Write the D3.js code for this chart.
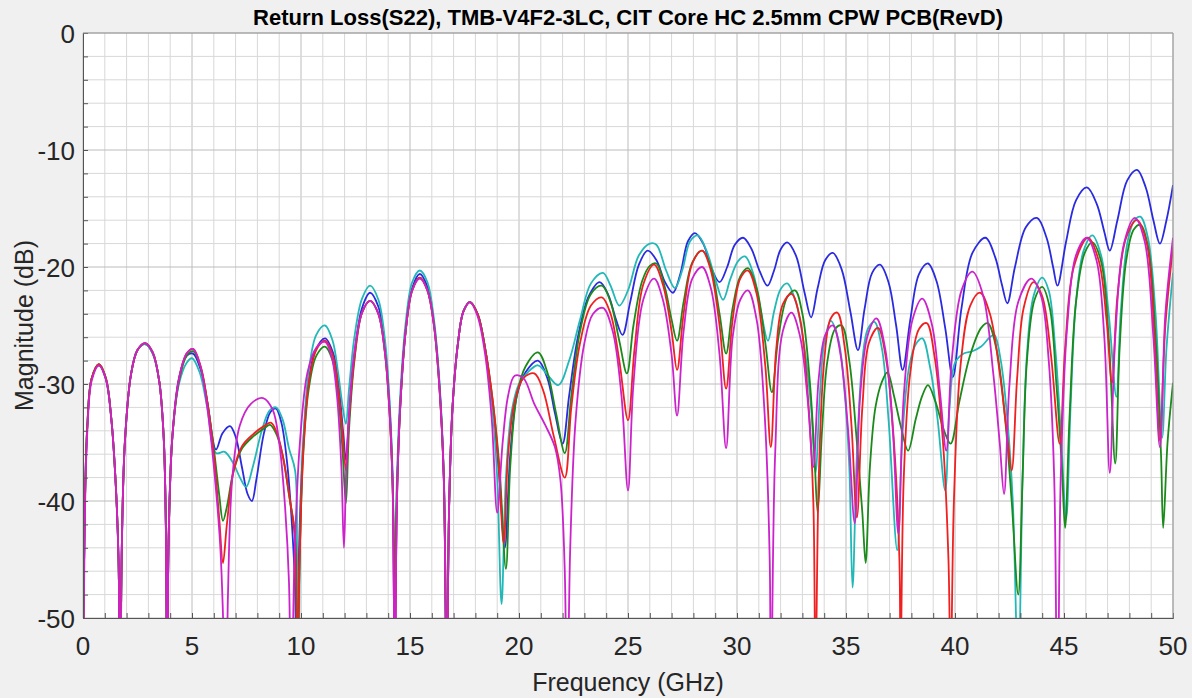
<!DOCTYPE html>
<html lang="en">
<head>
	<title>Return Loss S22</title>
	<script src="https://d3js.org/d3.v7.min.js" charset="utf-8"></script>
	<style>
		body {
			margin: 0;
			background: #f0f0f0;
			font-family: 'Liberation Sans', Arial, Helvetica, sans-serif;
		}
	</style>
</head>
<body>
	<div id="chart"></div>
	<script>
	// title and axis text
	var chartTitle = "Return Loss(S22), TMB-V4F2-3LC, CIT Core HC 2.5mm CPW PCB(RevD)";
	var xTitle = "Frequency (GHz)";
	var yTitle = "Magnitude (dB)";

	// tick labels
	var xTicks = [0, 5, 10, 15, 20, 25, 30, 35, 40, 45, 50];
	var yTicks = [0, -10, -20, -30, -40, -50];

	// trace data, [frequency GHz, magnitude dB]
	var blueData = [
		[0,-55],[0.08,-41],[0.2,-33.5],[0.4,-29.5],[0.73,-28.4],[1.05,-29.6],[1.3,-33],[1.5,-38.5],[1.63,-45],[1.7,-58],
		[1.78,-44],[1.92,-35],[2.2,-29.2],[2.5,-27.1],[2.85,-26.6],[3.2,-27.4],[3.5,-29.8],[3.7,-34.5],[3.8,-42],[3.86,-58],
		[3.93,-43],[4.1,-34.5],[4.4,-29.5],[4.75,-27.6],[5.05,-27.4],[5.4,-28.8],[5.7,-31.5],[6.1,-35.6],[6.4,-34.2],[6.74,-33.6],
		[7.0,-34.5],[7.3,-37.2],[7.55,-39.4],[7.75,-40.0],[7.95,-38.2],[8.3,-34.2],[8.6,-32.4],[8.85,-32.1],[9.1,-33.3],[9.35,-36.5],
		[9.55,-41],[9.72,-47],[9.82,-58],
		[9.9,-45],[10.05,-37],[10.3,-30.5],[10.65,-27.2],[11.1,-26.1],[11.5,-27.5],[11.75,-30.5],[11.95,-34.5],[12.06,-36.5],
		[12.2,-33],[12.45,-27.5],[12.8,-23.5],[13.17,-22.2],[13.55,-23.4],[13.85,-26.8],[14.05,-31.5],[14.2,-38],[14.3,-55],
		[14.4,-40],[14.55,-32],[14.8,-25.5],[15.1,-21.8],[15.45,-20.6],[15.8,-21.7],[16.1,-24.8],[16.35,-30],[16.55,-38],[16.68,-55],
		[16.8,-40],[16.95,-32],[17.2,-26.5],[17.45,-23.8],[17.75,-23.0],[18.1,-24],[18.45,-27],[18.8,-32],[19.1,-38],[19.35,-44],
		[19.6,-36],[19.9,-31],[20.3,-29],[20.87,-28.0],[21.3,-29.5],[21.65,-32.5],[22.0,-35.1],
		[22.3,-31],[22.7,-26],[23.2,-22.5],[23.7,-21.3],[24.1,-22.4],[24.45,-24.5],[24.75,-25.8],
		[25.1,-23],[25.5,-19.8],[25.9,-18.6],[26.3,-19.4],[26.7,-21.3],[27.06,-22.2],
		[27.4,-20.6],[27.75,-17.8],[28.07,-17.1],[28.45,-18],[28.85,-20.2],[29.2,-21.3],
		[29.55,-20],[29.9,-18.1],[30.28,-17.5],[30.65,-18.4],[31.05,-20.4],[31.4,-21.6],
		[31.7,-20.3],[32.0,-18.5],[32.3,-17.9],[32.7,-19],[33.1,-22.2],[33.4,-24.3],
		[33.7,-21.8],[34.05,-19.4],[34.4,-18.8],[34.8,-20.2],[35.2,-23.8],[35.55,-27.1],
		[35.85,-23.6],[36.2,-20.5],[36.56,-19.8],[36.95,-21.3],[37.3,-25],[37.6,-28.8],
		[37.95,-24.5],[38.35,-20.6],[38.76,-19.7],[39.15,-21.2],[39.55,-25.2],[39.9,-29.4],
		[40.3,-23.5],[40.8,-18.8],[41.4,-17.5],[41.85,-19.2],[42.15,-21.5],[42.4,-23.1],
		[42.75,-20],[43.25,-16.6],[43.76,-15.8],[44.2,-17.5],[44.5,-20],[44.7,-21.6],
		[45.1,-17.8],[45.55,-14.3],[46.05,-13.2],[46.5,-14.6],[46.85,-17],[47.1,-18.6],
		[47.45,-16],[47.9,-12.6],[48.35,-11.7],[48.75,-13.2],[49.1,-16],[49.4,-18.0],
		[49.7,-16],[50,-13.0]
	];

	var cyanData = [
		[0,-55],[0.08,-41],[0.2,-33.5],[0.4,-29.5],[0.73,-28.3],[1.05,-29.5],[1.3,-33],[1.5,-38.5],[1.63,-45],[1.7,-58],
		[1.78,-44],[1.92,-35],[2.2,-29.2],[2.5,-27.1],[2.85,-26.6],[3.2,-27.4],[3.5,-29.8],[3.7,-34.5],[3.8,-42],[3.86,-58],
		[3.93,-43],[4.1,-34.5],[4.4,-30],[4.75,-28.2],[5.0,-27.8],[5.35,-29],[5.7,-32],[6.1,-35.9],[6.5,-35.8],[6.9,-36.8],
		[7.2,-38],[7.48,-38.8],[7.8,-37],[8.2,-34],[8.55,-32.3],[8.85,-32.0],[9.15,-33],[9.45,-35.5],[9.73,-37.4],[9.82,-45],[9.88,-55],
		[9.95,-44],[10.1,-35],[10.35,-29],[10.7,-25.8],[11.1,-25.0],[11.45,-26.3],[11.7,-29],[11.9,-31.8],[12.06,-33.4],
		[12.2,-30.5],[12.45,-26],[12.8,-22.7],[13.17,-21.6],[13.55,-22.8],[13.85,-26.2],[14.05,-31],[14.2,-37.5],[14.3,-46.5],
		[14.4,-38],[14.55,-31],[14.8,-24.8],[15.1,-21.3],[15.45,-20.3],[15.8,-21.3],[16.1,-24.5],[16.35,-29.8],[16.55,-37.5],[16.68,-55],
		[16.8,-40],[16.95,-32],[17.2,-26.5],[17.45,-23.8],[17.75,-23.0],[18.1,-24],[18.45,-27],[18.8,-32.5],[19.0,-38],[19.2,-48.8],
		[19.4,-38],[19.65,-32.5],[20.0,-30],[20.4,-29],[20.87,-28.4],[21.3,-29.2],[21.8,-30.1],
		[22.3,-28],[22.8,-24.5],[23.3,-21.4],[23.85,-20.5],[24.2,-21.6],[24.6,-23.3],
		[25.0,-22],[25.5,-19],[26.0,-18.0],[26.3,-18.1],[26.75,-20.3],[27.15,-21.8],
		[27.5,-20.2],[27.85,-17.8],[28.2,-17.3],[28.6,-18.6],[29.0,-21],[29.36,-22.8],
		[29.7,-21],[30.05,-19.5],[30.37,-19.1],[30.75,-20.6],[31.1,-23.8],[31.42,-26.3],
		[31.7,-23.8],[32.0,-21.9],[32.3,-21.4],[32.7,-23],[33.1,-27],[33.4,-32],[33.6,-37.6],
		[33.8,-31],[34.0,-26.5],[34.3,-24.6],[34.65,-26.2],[34.95,-31],[35.15,-37],[35.3,-47.4],
		[35.5,-36],[35.75,-28],[36.0,-25.3],[36.3,-24.7],[36.65,-27],[36.95,-33],[37.35,-44.2],
		[37.6,-34],[37.9,-28.5],[38.2,-26.6],[38.5,-26.1],[38.85,-28.5],[39.2,-33],[39.55,-39.1],
		[39.75,-32],[40.0,-28.2],[40.4,-27.4],[40.8,-27.2],[41.2,-26.8],[41.6,-26],[41.8,-25.8],[42.1,-28],[42.4,-33],[42.65,-40],[42.9,-55],
		[43.1,-38],[43.3,-27.5],[43.6,-22.5],[44.0,-20.9],[44.3,-22],[44.6,-27],[44.85,-34],[45.1,-41.5],
		[45.3,-32],[45.55,-23],[45.9,-18.6],[46.3,-17.3],[46.7,-19],[47.05,-24],[47.4,-31.1],
		[47.6,-24],[47.9,-18],[48.2,-16.1],[48.5,-15.7],[48.85,-17.5],[49.2,-24],[49.5,-34.6],
		[49.7,-27],[50,-20.5]
	];

	var greenData = [
		[0,-55],[0.08,-41],[0.2,-33.5],[0.4,-29.5],[0.73,-28.3],[1.05,-29.5],[1.3,-33],[1.5,-38.5],[1.63,-45],[1.7,-58],
		[1.78,-44],[1.92,-35],[2.2,-29.2],[2.5,-27.1],[2.85,-26.5],[3.2,-27.3],[3.5,-29.8],[3.7,-34.5],[3.8,-42],[3.86,-58],
		[3.93,-43],[4.1,-34.5],[4.4,-29.8],[4.75,-27.6],[5.05,-27.2],[5.4,-28.6],[5.7,-31.5],[6.0,-35.5],[6.25,-39.5],[6.42,-41.7],
		[6.6,-40.5],[6.9,-37.5],[7.3,-35.5],[7.8,-34.5],[8.3,-33.8],[8.58,-33.5],[8.85,-34.2],[9.15,-36],[9.45,-39.5],[9.72,-42.8],[9.82,-55],
		[9.95,-44],[10.1,-36],[10.35,-30.5],[10.7,-27.6],[11.1,-26.8],[11.45,-28],[11.7,-31],[11.9,-35.5],[12.06,-40.2],
		[12.2,-34],[12.45,-28],[12.8,-23.9],[13.17,-22.9],[13.55,-24],[13.85,-27.3],[14.05,-32],[14.2,-38.5],[14.3,-46.5],
		[14.4,-39],[14.55,-32],[14.8,-25.5],[15.1,-22],[15.45,-20.9],[15.8,-22],[16.1,-25],[16.35,-30.3],[16.55,-38],[16.68,-55],
		[16.8,-40],[16.95,-32],[17.2,-26.5],[17.45,-23.8],[17.75,-23.0],[18.1,-24],[18.45,-27],[18.8,-31.5],[19.1,-37],[19.4,-45.8],
		[19.6,-37],[19.9,-31],[20.3,-28.5],[20.87,-27.3],[21.3,-29],[21.7,-32.5],[22.1,-35.9],
		[22.4,-31],[22.8,-25.5],[23.3,-22.3],[23.8,-21.6],[24.2,-23],[24.6,-26.3],[24.95,-29.1],
		[25.25,-25],[25.65,-21.2],[26.0,-19.9],[26.3,-19.7],[26.7,-21.8],[27.0,-24.5],[27.25,-26.3],
		[27.55,-23],[27.95,-19.6],[28.4,-18.6],[28.8,-20],[29.2,-24],[29.5,-27.4],
		[29.8,-23.5],[30.15,-20.8],[30.5,-20.1],[30.9,-21.8],[31.3,-26.5],[31.6,-30.7],
		[31.9,-26],[32.3,-22.6],[32.66,-22.0],[33.0,-24],[33.35,-30],[33.55,-36],[33.7,-41],
		[33.9,-34],[34.15,-28],[34.5,-25.3],[34.8,-25.0],[35.15,-28],[35.5,-35],[35.75,-41],[35.9,-45.3],
		[36.1,-37],[36.35,-32],[36.65,-29.8],[36.9,-29.0],[37.2,-31],[37.5,-33.5],[37.85,-35.7],
		[38.2,-33],[38.5,-31],[38.76,-30.1],[39.1,-31.5],[39.5,-34],[39.8,-35.1],
		[40.2,-31.5],[40.7,-27.5],[41.2,-25.2],[41.5,-24.8],[41.9,-27],[42.3,-33],[42.6,-40],[42.9,-48],
		[43.1,-38],[43.3,-28],[43.65,-22.8],[44.0,-21.7],[44.35,-23.5],[44.65,-30],[44.9,-37],[45.05,-42.3],
		[45.25,-33],[45.55,-23],[45.95,-18.8],[46.3,-17.9],[46.7,-19.5],[47.05,-26],[47.35,-36.8],
		[47.55,-27],[47.85,-19.5],[48.2,-16.8],[48.5,-16.4],[48.85,-18.2],[49.2,-26],[49.45,-36],[49.55,-42.3],
		[49.75,-35],[50,-29.9]
	];

	var redData = [
		[0,-55],[0.08,-41],[0.2,-33.5],[0.4,-29.5],[0.73,-28.3],[1.05,-29.5],[1.3,-33],[1.5,-38.5],[1.63,-45],[1.7,-58],
		[1.78,-44],[1.92,-35],[2.2,-29.2],[2.5,-27.1],[2.85,-26.5],[3.2,-27.3],[3.5,-29.8],[3.7,-34.5],[3.8,-42],[3.86,-58],
		[3.93,-43],[4.1,-34.5],[4.4,-29.6],[4.75,-27.4],[5.05,-27.0],[5.4,-28.5],[5.7,-31.5],[6.0,-36],[6.25,-41.5],[6.42,-45.3],
		[6.6,-42],[6.9,-37.5],[7.3,-35.3],[7.8,-34.3],[8.3,-33.6],[8.62,-33.3],[8.9,-34.2],[9.2,-36.5],[9.5,-40],[9.72,-43.1],[9.82,-55],
		[9.95,-44],[10.1,-36],[10.35,-30],[10.7,-27.1],[11.1,-26.3],[11.45,-27.5],[11.7,-30.3],[11.9,-34],[12.06,-37.4],
		[12.2,-33],[12.45,-27.8],[12.8,-23.9],[13.17,-22.9],[13.55,-24],[13.85,-27.3],[14.05,-32],[14.2,-38.5],[14.3,-55],
		[14.4,-40],[14.55,-32],[14.8,-25.5],[15.1,-22],[15.45,-20.9],[15.8,-22],[16.1,-25],[16.35,-30.3],[16.55,-38],[16.68,-55],
		[16.8,-40],[16.95,-32],[17.2,-26.5],[17.45,-23.8],[17.75,-23.0],[18.1,-24],[18.45,-27],[18.8,-31.5],[19.05,-36.5],[19.3,-43.6],
		[19.5,-36],[19.8,-31.5],[20.2,-29.5],[20.7,-29.1],[21.1,-30.5],[21.6,-34.5],[22.1,-38.0],
		[22.4,-32],[22.8,-26.5],[23.3,-23.3],[23.8,-22.6],[24.2,-24],[24.6,-28],[25.0,-33.1],
		[25.3,-27],[25.7,-21.5],[26.2,-19.8],[26.6,-21.5],[27.0,-25.5],[27.25,-28.8],
		[27.55,-24],[27.95,-19.7],[28.4,-18.6],[28.8,-20.3],[29.2,-25],[29.5,-30.4],
		[29.8,-24.5],[30.15,-21],[30.5,-20.3],[30.9,-22.3],[31.3,-28.5],[31.55,-35.4],
		[31.8,-27],[32.1,-23.2],[32.5,-22.3],[32.9,-24.5],[33.25,-31],[33.5,-40],[33.6,-55],
		[33.75,-38],[34.0,-28],[34.3,-24.4],[34.6,-23.9],[34.95,-27],[35.25,-33.5],[35.5,-41.4],
		[35.75,-32],[36.05,-26.5],[36.47,-25.2],[36.85,-28],[37.2,-35],[37.45,-45],[37.5,-55],
		[37.65,-38],[37.95,-29],[38.35,-25.3],[38.7,-24.8],[39.05,-27.5],[39.45,-35],[39.7,-45],[39.8,-55],
		[39.95,-40],[40.25,-28.5],[40.7,-23.3],[41.15,-22.2],[41.6,-24],[42.05,-29],[42.4,-34.5],[42.6,-37.4],
		[42.85,-29.5],[43.15,-23.5],[43.6,-21.3],[44.0,-22.5],[44.4,-27.5],[44.8,-35.1],
		[45.05,-27],[45.45,-20],[46.1,-17.5],[46.6,-19.5],[46.95,-24.5],[47.2,-29.9],
		[47.45,-22.5],[47.85,-17.5],[48.35,-16.0],[48.8,-18],[49.15,-26],[49.4,-34.8],
		[49.65,-25],[50,-18.3]
	];

	var magentaData = [
		[0,-60],[0.08,-42],[0.2,-34],[0.4,-29.7],[0.73,-28.4],[1.05,-29.6],[1.3,-33],[1.5,-38.5],[1.63,-45],[1.7,-60],
		[1.78,-44],[1.92,-35],[2.2,-29.2],[2.5,-27.1],[2.85,-26.5],[3.2,-27.3],[3.5,-29.8],[3.7,-34.5],[3.8,-42],[3.86,-60],
		[3.93,-43],[4.1,-34.5],[4.4,-29.6],[4.75,-27.4],[5.05,-27.0],[5.4,-28.6],[5.7,-32],[6.0,-37],[6.3,-44],[6.5,-55],[6.56,-60],
		[6.65,-48],[6.85,-38],[7.2,-33.5],[7.7,-31.7],[8.26,-31.2],[8.7,-32.2],[9.0,-35],[9.25,-40],[9.45,-47],[9.55,-60],
		[9.7,-45],[9.95,-35],[10.3,-29],[10.7,-26.9],[11.1,-26.4],[11.4,-27.6],[11.65,-31],[11.85,-37],[11.97,-44],
		[12.1,-36],[12.4,-28],[12.8,-23.9],[13.17,-22.9],[13.55,-24],[13.85,-27.3],[14.05,-32],[14.2,-38.5],[14.3,-55],
		[14.4,-40],[14.55,-32],[14.8,-25.5],[15.1,-22],[15.45,-21.0],[15.8,-22],[16.1,-25],[16.35,-30.3],[16.55,-38],[16.68,-55],
		[16.8,-40],[16.95,-32],[17.2,-26.5],[17.45,-23.8],[17.75,-23.0],[18.1,-24.2],[18.45,-27.5],[18.75,-33],[19.0,-41],
		[19.25,-35],[19.5,-31],[19.8,-29.3],[20.2,-29.5],[20.7,-31.7],[21.2,-33.5],[21.65,-35.4],[21.9,-38.2],[22.1,-46],[22.2,-60],
		[22.35,-44],[22.6,-33],[23.0,-26.5],[23.4,-24],[23.85,-23.5],[24.3,-25.5],[24.7,-31],[25.0,-39.1],
		[25.25,-30],[25.7,-22.8],[26.2,-21.0],[26.6,-22.8],[27.0,-27.5],[27.25,-32.7],
		[27.55,-25.5],[27.95,-21],[28.4,-20.0],[28.8,-21.8],[29.2,-27.5],[29.5,-35.5],
		[29.8,-26],[30.15,-22.8],[30.5,-22.0],[30.9,-24.5],[31.25,-32],[31.5,-45],[31.55,-60],
		[31.75,-36],[32.1,-25.5],[32.5,-23.9],[32.9,-26],[33.25,-31.5],[33.5,-37.1],
		[33.75,-29.5],[34.05,-25.8],[34.4,-25.0],[34.75,-27.5],[35.1,-34],[35.4,-41.9],
		[35.65,-31],[36.0,-25.8],[36.4,-24.4],[36.8,-27],[37.15,-34],[37.4,-42.8],
		[37.65,-31],[38.05,-24.5],[38.5,-22.7],[38.95,-25],[39.3,-30.5],[39.6,-35.7],
		[39.85,-28],[40.3,-22],[40.8,-20.4],[41.3,-22.5],[41.75,-29],[42.05,-35],[42.25,-39.4],
		[42.5,-30],[42.9,-23],[43.5,-21.0],[43.95,-22.5],[44.3,-28],[44.55,-38],[44.7,-60],
		[44.85,-38],[45.15,-25],[45.55,-19],[46.05,-17.5],[46.5,-19.5],[46.85,-26],[47.1,-37.6],
		[47.35,-26],[47.75,-18],[48.25,-15.8],[48.7,-17.8],[49.1,-26],[49.4,-35.4],
		[49.65,-24],[50,-17.5]
	];

	var seriesData = [blueData, cyanData, greenData, redData, magentaData];
	var seriesColors = ["#2a2ae0", "#22b8b8", "#1a8a1a", "#f02020", "#cc22cc"];

	// Width and Height of the whole figure
	var width = 1192;
	var height = 698;
	var margin = { top: 33, right: 19, bottom: 80, left: 83 };
	var plotW = width - margin.left - margin.right;
	var plotH = height - margin.top - margin.bottom;

	var svg = d3.select("#chart")
		.append("svg")
		.attr("width", width)
		.attr("height", height)
		.style("display", "block");

	svg.append("rect")
		.attr("width", width)
		.attr("height", height)
		.attr("fill", "#f0f0f0");

	var x = d3.scaleLinear().domain([0, 50]).range([0, plotW]);
	var y = d3.scaleLinear().domain([-50, 0]).range([plotH, 0]);

	var g = svg.append("g")
		.attr("transform", "translate(" + margin.left + "," + margin.top + ")");

	g.append("rect")
		.attr("width", plotW)
		.attr("height", plotH)
		.attr("fill", "#ffffff");

	// minor grid every 1 GHz / 2 dB, major at the labelled ticks
	g.append("g").selectAll("line")
		.data(x.ticks(50))
		.enter().append("line")
		.attr("x1", function(d) { return x(d); })
		.attr("x2", function(d) { return x(d); })
		.attr("y1", 0).attr("y2", plotH)
		.attr("stroke", function(d) { return d % 5 == 0 ? "#bcbcbc" : "#d8d8d8"; })
		.attr("stroke-width", 1);

	g.append("g").selectAll("line")
		.data(y.ticks(25))
		.enter().append("line")
		.attr("x1", 0).attr("x2", plotW)
		.attr("y1", function(d) { return y(d); })
		.attr("y2", function(d) { return y(d); })
		.attr("stroke", function(d) { return d % 10 == 0 ? "#bcbcbc" : "#d8d8d8"; })
		.attr("stroke-width", 1);

	// traces
	g.append("clipPath").attr("id", "plotClip")
		.append("rect").attr("width", plotW).attr("height", plotH);

	var line = d3.line()
		.x(function(d) { return x(d[0]); })
		.y(function(d) { return y(d[1]); })
		.curve(d3.curveCatmullRom.alpha(0.5));

	g.append("g")
		.attr("clip-path", "url(#plotClip)")
		.selectAll("path")
		.data(seriesData)
		.enter().append("path")
		.attr("d", line)
		.attr("fill", "none")
		.attr("stroke", function(d, i) { return seriesColors[i]; })
		.attr("stroke-width", 1.8)
		.attr("stroke-linejoin", "round");

	// axes with small inward ticks
	var xAxis = g.append("g")
		.attr("transform", "translate(0," + plotH + ")")
		.call(d3.axisBottom(x).tickValues(x.ticks(50)).tickSize(-5).tickFormat(""));
	var yAxis = g.append("g")
		.call(d3.axisLeft(y).tickValues(y.ticks(25)).tickSize(-5).tickFormat(""));
	xAxis.select(".domain").attr("stroke", "#555");
	yAxis.select(".domain").attr("stroke", "#555");
	xAxis.selectAll(".tick line").attr("stroke", "#555");
	yAxis.selectAll(".tick line").attr("stroke", "#555");

	// box top and right
	g.append("line").attr("x1", 0).attr("x2", plotW).attr("y1", 0).attr("y2", 0).attr("stroke", "#999");
	g.append("line").attr("x1", plotW).attr("x2", plotW).attr("y1", 0).attr("y2", plotH).attr("stroke", "#999");

	// tick labels
	g.append("g").selectAll("text")
		.data(xTicks)
		.enter().append("text")
		.attr("x", function(d) { return x(d); })
		.attr("y", plotH + 37)
		.attr("text-anchor", "middle")
		.attr("font-size", 26)
		.attr("fill", "#262626")
		.text(function(d) { return d; });

	g.append("g").selectAll("text")
		.data(yTicks)
		.enter().append("text")
		.attr("x", -8)
		.attr("y", function(d) { return y(d) + 10; })
		.attr("text-anchor", "end")
		.attr("font-size", 26)
		.attr("fill", "#262626")
		.text(function(d) { return d; });

	// titles
	svg.append("text")
		.attr("x", 628)
		.attr("y", 25)
		.attr("text-anchor", "middle")
		.attr("font-size", 22)
		.attr("font-weight", "bold")
		.attr("fill", "#000")
		.attr("textLength", 750)
		.attr("lengthAdjust", "spacingAndGlyphs")
		.text(chartTitle);

	svg.append("text")
		.attr("x", margin.left + plotW / 2)
		.attr("y", 691)
		.attr("text-anchor", "middle")
		.attr("font-size", 25)
		.attr("fill", "#262626")
		.text(xTitle);

	svg.append("text")
		.attr("transform", "translate(33," + (margin.top + plotH / 2) + ") rotate(-90)")
		.attr("text-anchor", "middle")
		.attr("font-size", 25)
		.attr("fill", "#262626")
		.text(yTitle);
	</script>
</body>
</html>
